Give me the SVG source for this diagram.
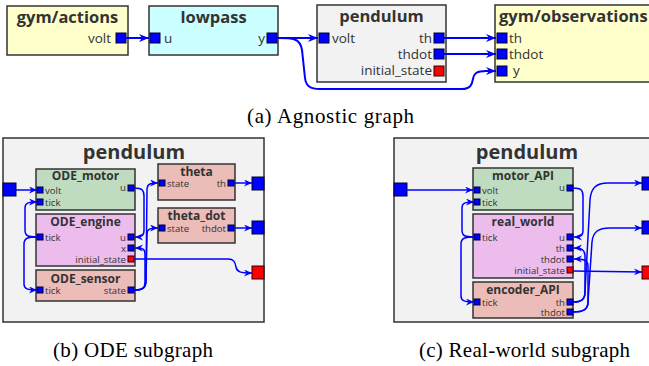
<svg xmlns="http://www.w3.org/2000/svg" width="649" height="366" viewBox="0 0 649 366">
<style>
.box{stroke:#333;stroke-width:1.5}
.outer{fill:#f2f2f2;stroke:#333;stroke-width:1.5}
.t1{font-family:"Open Sans","DejaVu Sans",sans-serif;font-weight:bold;font-size:16.5px;fill:#333;text-anchor:middle}
.t2{font-family:"Open Sans","DejaVu Sans",sans-serif;font-weight:bold;font-size:12px;fill:#333;text-anchor:middle}
.tb{font-family:"Open Sans","DejaVu Sans",sans-serif;font-weight:bold;font-size:20px;fill:#333;text-anchor:middle}
.p1{font-family:"Open Sans","DejaVu Sans",sans-serif;font-size:13.5px;fill:#333}
.p2{font-family:"Open Sans","DejaVu Sans",sans-serif;font-size:9.6px;fill:#333}
.e{text-anchor:end}
.pb{fill:#0000ff;stroke:#000033;stroke-width:1}
.pr{fill:#ff0000;stroke:#330000;stroke-width:1}
.c1{fill:none;stroke:#0000ff;stroke-width:2}
.c2{fill:none;stroke:#0000ff;stroke-width:1.5}
.cap{font-family:"Liberation Serif","Times New Roman",serif;font-size:21px;fill:#000}
.yel{fill:#ffffcc}.cy{fill:#ccffff}.gr{fill:#f2f2f2}.grn{fill:#c0dcc0}.pk{fill:#ecbcec}.sal{fill:#ecbcb8}
</style>
<defs>
<marker id="a1" markerUnits="userSpaceOnUse" markerWidth="12" markerHeight="10" refX="10" refY="4" orient="auto"><path d="M0,0 L10,4 L0,8 L3,4 z" fill="#0000ff"/></marker>
<marker id="a2" markerUnits="userSpaceOnUse" markerWidth="10" markerHeight="8" refX="8" refY="3.5" orient="auto"><path d="M0,0 L8,3.5 L0,7 L2.5,3.5 z" fill="#0000ff"/></marker>
</defs>

<!-- (a) -->
<g id="gym_actions">
<rect class="box yel" x="7" y="6" width="121" height="49"/>
<text class="t1" x="67.5" y="23">gym/actions</text>
<text class="p1 e" x="111" y="43">volt</text>
<rect class="pb" x="116" y="33" width="10" height="10"/>
</g>
<g id="lowpass">
<rect class="box cy" x="149" y="6" width="129" height="49"/>
<text class="t1" x="213.5" y="23">lowpass</text>
<rect class="pb" x="150" y="33" width="10" height="10"/>
<text class="p1" x="164" y="43">u</text>
<rect class="pb" x="267" y="33" width="10" height="10"/>
<text class="p1 e" x="265" y="43">y</text>
</g>
<g id="pendulum_a">
<rect class="box gr" x="317" y="5" width="129" height="77"/>
<text class="t1" x="381.5" y="22">pendulum</text>
<rect class="pb" x="319" y="33" width="10" height="10"/>
<text class="p1" x="332" y="43">volt</text>
<rect class="pb" x="434" y="33" width="10" height="10"/>
<text class="p1 e" x="432" y="43">th</text>
<rect class="pb" x="434" y="49" width="10" height="10"/>
<text class="p1 e" x="432" y="59">thdot</text>
<rect class="pr" x="434" y="66" width="10" height="10"/>
<text class="p1 e" x="432" y="75">initial_state</text>
</g>
<g id="gym_observations">
<rect class="box yel" x="495" y="5" width="175" height="77"/>
<text class="t1" x="499" y="22" style="text-anchor:start">gym/observations</text>
<rect class="pb" x="497" y="33" width="10" height="10"/>
<text class="p1" x="509" y="43">th</text>
<rect class="pb" x="497" y="49" width="10" height="10"/>
<text class="p1" x="509" y="59">thdot</text>
<rect class="pb" x="497" y="66" width="10" height="10"/>
<text class="p1" x="513" y="75">y</text>
</g>
<g id="connectors_a">
<path class="c1" d="M126,38 L149,38" marker-end="url(#a1)"/>
<path class="c1" d="M277,38 L318,38" marker-end="url(#a1)"/>
<path class="c1" d="M444,38 L496,38" marker-end="url(#a1)"/>
<path class="c1" d="M444,54 L496,54" marker-end="url(#a1)"/>
<path class="c1" d="M277,38 C293,38 300,38 302,50 L305,78 C306,86 310,89 320,89 L462,89 C470,89 472,85 473,79 C474,73 477,71 486,71 L496,71" marker-end="url(#a1)"/>
</g>
<text class="cap" x="247" y="123" textLength="167" lengthAdjust="spacing">(a) Agnostic graph</text>

<!-- (b) -->
<g id="pendulum_b">
<rect class="outer" x="3" y="138" width="261" height="184"/>
<text class="tb" x="134" y="159">pendulum</text>
<rect class="pb" x="3" y="183" width="13" height="13"/>
<rect class="pb" x="252" y="177" width="12" height="13"/>
<rect class="pb" x="252" y="221" width="12" height="13"/>
<rect class="pr" x="252" y="266" width="12" height="13"/>
</g>
<g id="ODE_motor">
<rect class="box grn" x="36" y="169" width="99" height="41"/>
<text class="t2" x="85.5" y="180">ODE_motor</text>
<rect class="pb" x="37" y="187" width="6" height="6"/><text class="p2" x="45" y="194">volt</text>
<rect class="pb" x="37" y="199" width="6" height="6"/><text class="p2" x="45" y="206">tick</text>
<rect class="pb" x="128" y="185" width="6" height="6"/><text class="p2 e" x="126" y="191">u</text>
</g>
<g id="ODE_engine">
<rect class="box pk" x="36" y="214" width="99" height="52"/>
<text class="t2" x="85.5" y="226">ODE_engine</text>
<rect class="pb" x="37" y="234" width="6" height="6"/><text class="p2" x="45" y="241">tick</text>
<rect class="pb" x="128" y="234" width="6" height="6"/><text class="p2 e" x="126" y="241">u</text>
<rect class="pb" x="128" y="245" width="6" height="6"/><text class="p2 e" x="126" y="252">x</text>
<rect class="pr" x="128" y="256" width="6" height="6"/><text class="p2 e" x="126" y="263">initial_state</text>
</g>
<g id="ODE_sensor">
<rect class="box sal" x="36" y="270" width="99" height="31"/>
<text class="t2" x="85.5" y="283">ODE_sensor</text>
<rect class="pb" x="37" y="287" width="6" height="6"/><text class="p2" x="45" y="294">tick</text>
<rect class="pb" x="128" y="287" width="6" height="6"/><text class="p2 e" x="126" y="294">state</text>
</g>
<g id="theta">
<rect class="box sal" x="158" y="164" width="77" height="36"/>
<text class="t2" x="196.5" y="176">theta</text>
<rect class="pb" x="159" y="180" width="6" height="6"/><text class="p2" x="167" y="187">state</text>
<rect class="pb" x="228" y="180" width="6" height="6"/><text class="p2 e" x="226" y="187">th</text>
</g>
<g id="theta_dot">
<rect class="box sal" x="158" y="208" width="77" height="35"/>
<text class="t2" x="196.5" y="220">theta_dot</text>
<rect class="pb" x="159" y="225" width="6" height="6"/><text class="p2" x="167" y="232">state</text>
<rect class="pb" x="228" y="225" width="6" height="6"/><text class="p2 e" x="226" y="232">thdot</text>
</g>
<g id="connectors_b">
<path class="c2" d="M16,190 L37,190" marker-end="url(#a2)"/>
<path class="c2" d="M37,237 C28,237 25,236 25,230 L25,208 C25,203 28,202 37,202" marker-end="url(#a2)"/>
<path class="c2" d="M37,237 C28,237 24,238 24,244 L24,284 C24,289 28,290 37,290" marker-end="url(#a2)"/>
<path class="c2" d="M134,188 C142,188 144,190 144,196 L144,230 C144,236 142,237 135,237" marker-end="url(#a2)"/>
<path class="c2" d="M134,290 C143,290 145,288 145,282 L145,254 C145,249 143,248 135,248" marker-end="url(#a2)"/>
<path class="c2" d="M134,290 C144,290 146,287 146,280 L147,190 C147,184 150,183 158,183" marker-end="url(#a2)"/>
<path class="c2" d="M134,290 C144,290 146,287 146,280 L147,234 C147,229 150,228 158,228" marker-end="url(#a2)"/>
<path class="c2" d="M234,183 L252,183" marker-end="url(#a2)"/>
<path class="c2" d="M234,228 L252,228" marker-end="url(#a2)"/>
<path class="c2" d="M134,259 L228,259 C234,259 235,262 236,267 C237,272 240,273 252,273" marker-end="url(#a2)"/>
</g>
<text class="cap" x="53" y="357" textLength="160" lengthAdjust="spacing">(b) ODE subgraph</text>

<!-- (c) -->
<g id="pendulum_c">
<rect class="outer" x="394" y="138" width="265" height="184"/>
<text class="tb" x="527" y="159">pendulum</text>
<rect class="pb" x="394" y="183" width="13" height="13"/>
<rect class="pb" x="642" y="177" width="13" height="13"/>
<rect class="pb" x="642" y="221" width="13" height="13"/>
<rect class="pr" x="642" y="266" width="13" height="13"/>
</g>
<g id="motor_API">
<rect class="box grn" x="473" y="168" width="100" height="42"/>
<text class="t2" x="523" y="180">motor_API</text>
<rect class="pb" x="474" y="187" width="6" height="6"/><text class="p2" x="482" y="194">volt</text>
<rect class="pb" x="474" y="199" width="6" height="6"/><text class="p2" x="482" y="206">tick</text>
<rect class="pb" x="567" y="185" width="6" height="6"/><text class="p2 e" x="565" y="191">u</text>
</g>
<g id="real_world">
<rect class="box pk" x="473" y="214" width="100" height="64"/>
<text class="t2" x="523" y="226">real_world</text>
<rect class="pb" x="474" y="234" width="6" height="6"/><text class="p2" x="482" y="241">tick</text>
<rect class="pb" x="567" y="234" width="6" height="6"/><text class="p2 e" x="565" y="241">u</text>
<rect class="pb" x="567" y="245" width="6" height="6"/><text class="p2 e" x="565" y="252">th</text>
<rect class="pb" x="567" y="256" width="6" height="6"/><text class="p2 e" x="565" y="263">thdot</text>
<rect class="pr" x="567" y="267" width="6" height="6"/><text class="p2 e" x="565" y="274">initial_state</text>
</g>
<g id="encoder_API">
<rect class="box sal" x="473" y="282" width="100" height="36"/>
<text class="t2" x="523" y="294">encoder_API</text>
<rect class="pb" x="474" y="299" width="6" height="6"/><text class="p2" x="482" y="306">tick</text>
<rect class="pb" x="567" y="299" width="6" height="6"/><text class="p2 e" x="565" y="306">th</text>
<rect class="pb" x="567" y="309" width="6" height="6"/><text class="p2 e" x="565" y="316">thdot</text>
</g>
<g id="connectors_c">
<path class="c2" d="M407,190 L473,190" marker-end="url(#a2)"/>
<path class="c2" d="M474,237 C465,237 462,236 462,230 L462,208 C462,203 465,202 474,202" marker-end="url(#a2)"/>
<path class="c2" d="M474,237 C465,237 461,238 461,244 L461,296 C461,301 465,302 474,302" marker-end="url(#a2)"/>
<path class="c2" d="M573,188 C581,188 583,190 583,196 L583,230 C583,236 581,237 574,237" marker-end="url(#a2)"/>
<path class="c2" d="M573,302 C582,302 585,299 585,292 L585,256 C585,250 582,248 574,248" marker-end="url(#a2)"/>
<path class="c2" d="M573,302 C582,302 585,299 585,292 L590,200 C591,188 596,183 608,183 L642,183" marker-end="url(#a2)"/>
<path class="c2" d="M573,312 C584,312 588,309 588,302 L588,266 C588,260 584,259 574,259" marker-end="url(#a2)"/>
<path class="c2" d="M573,312 C584,312 588,309 588,302 L592,242 C593,232 598,228 610,228 L642,228" marker-end="url(#a2)"/>
<path class="c2" d="M573,271 L642,272" marker-end="url(#a2)"/>
</g>
<text class="cap" x="419" y="357" textLength="211" lengthAdjust="spacing">(c) Real-world subgraph</text>
</svg>
